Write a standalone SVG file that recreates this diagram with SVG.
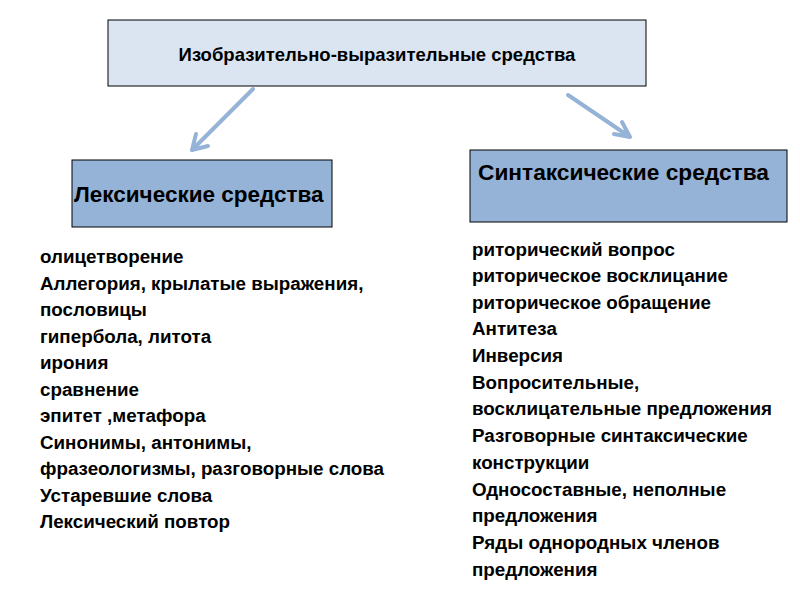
<svg xmlns="http://www.w3.org/2000/svg" width="800" height="600" viewBox="0 0 800 600">
<style>
text{font-family:"Liberation Sans",Arial,sans-serif;font-weight:bold;fill:#000}
.l{font-size:18.8px}
.c{stroke:#95b3d7;stroke-width:4;fill:none;stroke-linecap:round}
</style>
<rect width="800" height="600" fill="#fff"/>
<g id="top"><rect x="108" y="20" width="538" height="66" fill="#dbe5f1" stroke="#000" stroke-width="1"/>
<text x="377" y="61" font-size="18.5" text-anchor="middle">Изобразительно-выразительные средства</text></g>
<g id="lex"><rect x="72" y="160" width="260" height="67" fill="#95b3d7" stroke="#000" stroke-width="1"/>
<text x="74" y="202" font-size="22.5">Лексические средства</text></g>
<g id="syn"><rect x="470" y="150" width="317" height="72" fill="#95b3d7" stroke="#000" stroke-width="1"/>
<text x="478" y="180" font-size="22.7">Синтаксические средства</text></g>
<g id="connectors">
<path class="c" d="M253 89 L192 150 M192 150 L196 134 M192 150 L208 146"/>
<path class="c" d="M568 95 L630 137 M630 137 L614 134 M630 137 L622 122"/>
</g>
<g id="lexlist" class="l">
<text x="40" y="263">олицетворение</text>
<text x="40" y="290">Аллегория, крылатые выражения,</text>
<text x="40" y="316">пословицы</text>
<text x="40" y="343">гипербола, литота</text>
<text x="40" y="369">ирония</text>
<text x="40" y="396">сравнение</text>
<text x="40" y="422">эпитет ,метафора</text>
<text x="40" y="449">Синонимы, антонимы,</text>
<text x="40" y="475">фразеологизмы, разговорные слова</text>
<text x="40" y="502">Устаревшие слова</text>
<text x="40" y="528">Лексический  повтор</text>
</g>
<g id="synlist" class="l">
<text x="472" y="256">риторический вопрос</text>
<text x="472" y="282">риторическое восклицание</text>
<text x="472" y="309">риторическое обращение</text>
<text x="472" y="335">Антитеза</text>
<text x="472" y="362">Инверсия</text>
<text x="472" y="389">Вопросительные,</text>
<text x="472" y="415">восклицательные предложения</text>
<text x="472" y="442">Разговорные синтаксические</text>
<text x="472" y="469">конструкции</text>
<text x="472" y="496">Односоставные, неполные</text>
<text x="472" y="522">предложения</text>
<text x="472" y="549">Ряды однородных членов</text>
<text x="472" y="576">предложения</text>
</g>
</svg>
